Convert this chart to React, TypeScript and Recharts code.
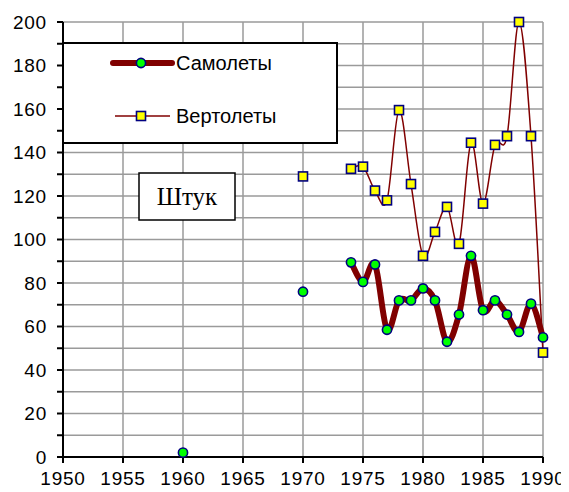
import React from 'react';
import { LineChart, Line, XAxis, YAxis, CartesianGrid } from 'recharts';

const years: number[] = [
  1960, 1961, 1962, 1963, 1964, 1965, 1966, 1967, 1968, 1969,
  1970, 1971, 1972, 1973, 1974, 1975, 1976, 1977, 1978, 1979,
  1980, 1981, 1982, 1983, 1984, 1985, 1986, 1987, 1988, 1989, 1990,
];
const samolety: (number | null)[] = [
  2, null, null, null, null, null, null, null, null, null,
  76, null, null, null, 89.5, 80.5, 88.5, 58.5, 72, 72,
  77.5, 72, 53, 65.5, 92.5, 67.5, 72, 65.5, 57.5, 70.5, 55,
];
const vertolety: (number | null)[] = [
  null, null, null, null, null, null, null, null, null, null,
  129, null, null, null, 132.5, 133.5, 122.5, 118, 159.5, 125.5,
  92.5, 103.5, 115, 98, 144.5, 116.5, 143.5, 147.5, 200, 147.5, 48,
];
const xTicks: number[] = [1950, 1955, 1960, 1965, 1970, 1975, 1980, 1985, 1990];
const yTicks: number[] = [0, 10, 20, 30, 40, 50, 60, 70, 80, 90, 100, 110, 120, 130, 140, 150, 160, 170, 180, 190, 200];
const seriesNames = ['Самолеты', 'Вертолеты'];
const unitLabel = 'Штук';

const data = years.map((y, i) => ({ year: y, samolety: samolety[i], vertolety: vertolety[i] }));

// Excel-like smoothing (Catmull-Rom via cubic Bezier)
function excelCurve(context: any) {
  let pts: [number, number][] = [];
  return {
    areaStart() {},
    areaEnd() {},
    lineStart() {
      pts = [];
    },
    lineEnd() {
      const n = pts.length;
      if (n === 0) return;
      context.moveTo(pts[0][0], pts[0][1]);
      if (n === 1) return;
      for (let i = 0; i < n - 1; i++) {
        const p0 = i > 0 ? pts[i - 1] : pts[i];
        const p1 = pts[i];
        const p2 = pts[i + 1];
        const p3 = i + 2 < n ? pts[i + 2] : pts[i + 1];
        const c1x = p1[0] + (p2[0] - p0[0]) / 6;
        const c1y = p1[1] + (p2[1] - p0[1]) / 6;
        const c2x = p2[0] - (p3[0] - p1[0]) / 6;
        const c2y = p2[1] - (p3[1] - p1[1]) / 6;
        context.bezierCurveTo(c1x, c1y, c2x, c2y, p2[0], p2[1]);
      }
    },
    point(x: number, y: number) {
      pts.push([+x, +y]);
    },
  };
}

const font = '"Liberation Sans", Arial, sans-serif';

const CircleDot = (props: any) => {
  const { cx, cy, index } = props;
  if (cx == null || cy == null) return <g key={`c${index}`} />;
  return <circle key={`c${index}`} cx={cx} cy={cy} r={4.6} fill="#00ff00" stroke="#000080" strokeWidth={1.6} />;
};

const SquareDot = (props: any) => {
  const { cx, cy, index } = props;
  if (cx == null || cy == null) return <g key={`s${index}`} />;
  return <rect key={`s${index}`} x={cx - 4.5} y={cy - 4.5} width={9} height={9} fill="#ffff00" stroke="#000080" strokeWidth={1.6} />;
};

const yFmt = (v: number) => (v % 20 === 0 ? String(v) : '');

export default function App() {
  return (
    <div style={{ position: 'relative', width: 553, height: 484 }}>
      <LineChart width={561} height={484} data={data} margin={{ top: 14, right: 26, left: 10, bottom: 8 }}>
        <CartesianGrid stroke="#9a9a9a" strokeWidth={1.5} />
        <XAxis
          type="number"
          dataKey="year"
          domain={[1950, 1990]}
          ticks={xTicks}
          interval={0}
          height={27}
          tickSize={6}
          tickMargin={9}
          stroke="#000"
          strokeWidth={2}
          tick={{ fill: '#000', fontSize: 19, fontFamily: font, letterSpacing: 0.8 }}
        />
        <YAxis
          type="number"
          domain={[0, 200]}
          ticks={yTicks}
          interval={0}
          width={45}
          tickSize={6}
          tickMargin={10}
          tickFormatter={yFmt}
          stroke="#000"
          strokeWidth={2}
          tick={{ fill: '#000', fontSize: 19, fontFamily: font, letterSpacing: 0.8 }}
        />
        <Line
          dataKey="samolety"
          name={seriesNames[0]}
          type={excelCurve as any}
          stroke="#800000"
          strokeWidth={6}
          dot={CircleDot}
          activeDot={false}
          connectNulls={false}
          isAnimationActive={false}
        />
        <Line
          dataKey="vertolety"
          name={seriesNames[1]}
          type={excelCurve as any}
          stroke="#800000"
          strokeWidth={1.5}
          dot={SquareDot}
          activeDot={false}
          connectNulls={false}
          isAnimationActive={false}
        />
      </LineChart>
      <svg
        width={276}
        height={102}
        style={{ position: 'absolute', left: 54, top: 34 }}
      >
        <rect x={1} y={1} width={274} height={100} fill="#fff" stroke="#000" strokeWidth={2} />
        <line x1={51} y1={21} x2={110} y2={21} stroke="#800000" strokeWidth={6} strokeLinecap="round" />
        <circle cx={79} cy={21} r={4.6} fill="#00ff00" stroke="#000080" strokeWidth={1.6} />
        <text x={114} y={28} fontSize={20} fontFamily={font} fill="#000">{seriesNames[0]}</text>
        <line x1={53} y1={74} x2={108} y2={74} stroke="#800000" strokeWidth={1.5} />
        <rect x={74.5} y={69.5} width={9} height={9} fill="#ffff00" stroke="#000080" strokeWidth={1.6} />
        <text x={114} y={81} fontSize={20} fontFamily={font} fill="#000">{seriesNames[1]}</text>
      </svg>
      <svg width={98} height={49} style={{ position: 'absolute', left: 130, top: 164 }}>
        <rect x={1} y={1} width={96} height={47} fill="#fff" stroke="#000" strokeWidth={1.5} />
        <text x={49} y={33} textAnchor="middle" fontSize={25} fontFamily='"Liberation Serif", "Times New Roman", serif' fill="#000">{unitLabel}</text>
      </svg>
    </div>
  );
}
